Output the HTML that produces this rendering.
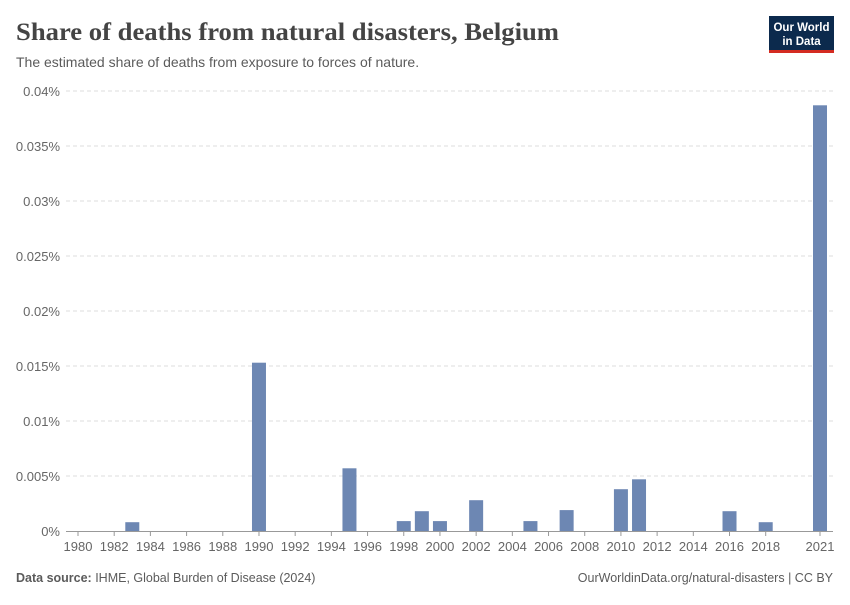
<!DOCTYPE html>
<html><head><meta charset="utf-8"><style>
body{margin:0;background:#fff;width:850px;height:600px;overflow:hidden;font-family:"Liberation Sans",sans-serif}
</style></head><body>
<svg width="850" height="600" xmlns="http://www.w3.org/2000/svg">
<text x="16" y="40" font-family="Liberation Serif,serif" font-size="25" font-weight="bold" fill="#444" textLength="543" lengthAdjust="spacingAndGlyphs">Share of deaths from natural disasters, Belgium</text>
<text x="16" y="67" font-size="14" fill="#5b5b5b">The estimated share of deaths from exposure to forces of nature.</text>
<g>
<rect x="769" y="16" width="65" height="36" fill="#0c2a4d"/>
<rect x="769" y="50" width="65" height="3" fill="#d42b21"/>
<text x="801.5" y="31" text-anchor="middle" font-size="11.5" font-weight="bold" fill="#fff">Our World</text>
<text x="801.5" y="45" text-anchor="middle" font-size="11.5" font-weight="bold" fill="#fff">in Data</text>
</g>
<g id="grid"></g><g id="bars"></g><g id="xaxis"></g>
<text x="16" y="582" font-size="12.5" fill="#5b5b5b"><tspan font-weight="bold">Data source:</tspan> IHME, Global Burden of Disease (2024)</text>
<text x="833" y="582" text-anchor="end" font-size="12.5" fill="#5b5b5b">OurWorldinData.org/natural-disasters | CC BY</text>
</svg>
<script>
const years=[1983,1990,1995,1998,1999,2000,2002,2005,2007,2010,2011,2016,2018,2021];
const values=[0.0008,0.0153,0.0057,0.0009,0.0018,0.0009,0.0028,0.0009,0.0019,0.0038,0.0047,0.0018,0.0008,0.0387];
const yTicks=[0,0.005,0.01,0.015,0.02,0.025,0.03,0.035,0.04];
const yTickLabels=["0%","0.005%","0.01%","0.015%","0.02%","0.025%","0.03%","0.035%","0.04%"];
const xTicks=[1980,1982,1984,1986,1988,1990,1992,1994,1996,1998,2000,2002,2004,2006,2008,2010,2012,2014,2016,2018,2021];
const NS="http://www.w3.org/2000/svg";
const x=y=>78+(y-1980)*(820-78)/41;
const yS=v=>531-v*11000;
function mk(t,a,p){const e=document.createElementNS(NS,t);for(const k in a)e.setAttribute(k,a[k]);p.appendChild(e);return e;}
const g=document.getElementById('grid'),b=document.getElementById('bars'),xa=document.getElementById('xaxis');
yTicks.forEach((v,i)=>{
 if(i>0){const l=mk('line',{x1:66,x2:833,y1:yS(v),y2:yS(v),stroke:'#ddd','stroke-dasharray':'4,3'},g);
 
 }
 const t=mk('text',{x:60,y:yS(v)+5,'text-anchor':'end','font-size':13,fill:'#666'},g);t.textContent=yTickLabels[i];
 
 
});
years.forEach((yr,i)=>{
 const r=mk('rect',{x:x(yr)-7,y:yS(values[i]),width:14,height:531-yS(values[i]),fill:'#6d87b3'},b);
 
 
});
const ax=mk('line',{x1:66,x2:833,y1:531.5,y2:531.5,stroke:'#999'},xa);


xTicks.forEach(yr=>{
 mk('line',{x1:x(yr),x2:x(yr),y1:531,y2:536,stroke:'#999'},xa);
 const t=mk('text',{x:x(yr),y:551,'text-anchor':'middle','font-size':13,fill:'#666'},xa);t.textContent=yr;
 
 
});
</script>
</body></html>
